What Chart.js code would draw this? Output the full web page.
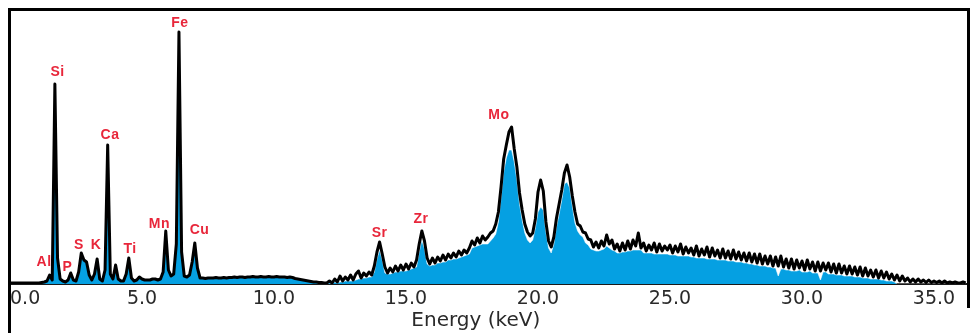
<!DOCTYPE html>
<html>
<head>
<meta charset="utf-8">
<script src="https://cdn.jsdelivr.net/npm/chart.js@4.4.1/dist/chart.umd.min.js"></script>
<style>
  html, body { margin: 0; padding: 0; background: #ffffff; }
  #wrap { width: 972px; height: 333px; position: relative; }
  canvas { display: block; }
</style>
</head>
<body>
<div id="wrap"><canvas id="c" width="972" height="333"></canvas></div>
<script>
// ---------------- DATA ----------------
const energyStepKeV = 0.1;            // channel width of the spectrum
const axisMaxKeV = 36.25;

// measured spectrum (black trace), one value per 0.1 keV channel, from 0.0 keV
const measured = [
  1,1,1,1,1,1,1,1,1,1,
  1,1,1.5,2,3,9,4,200,26,5,
  3,2,4,11,4,3,12,31,24,22,
  9,4,10,25,5,3,14,139,10,5,
  19,5,3,3,10,26,6,3,4,7,
  5,4,4,4,5,5,4,5,12,53,
  14,8,10,40,252,32,8,7,9,22,
  41,16,6,6,5.5,6,6,6,6.5,6,
  6,6.5,6,6.5,6.5,7,6.5,7,7,6.5,
  7,7,7.5,7,7,7.5,7,7,7.5,7,
  7,7.5,7,7,7,6.5,7,6.5,5.5,5,
  4.5,4,3.5,3,2.5,2,2,1.5,1.5,1,
  1,3,1,5,2,8,3,7,4,9,
  4,10,13,6,11,8,12,9,18,32,
  42,30,17,11,16,12,18,13,19,14,
  20,15,21,17,24,40,53,43,26,20,
  26,21,27,23,29,24,30,26,31,27,
  33,29,34,31,36,43,39,46,41,48,
  44,47,51,53,60,72,97,125,139,152,
  157,135,117,91,74,60,52,48,51,65,
  92,104,93,62,43,37,47,66,80,94,
  111,119,107,88,72,60,58,52,51,45,
  44,37,42,36,43,38,49,40,44,35,
  40,33,41,34,43,35,44,38,51,36,
  41,33,39,34,41,32,40,33,38,34,
  39,31,38,32,40,30,37,31,36,29,
  38,28,35,29,37,27,36,28,34,26,
  35,26,33,25,34,25,32,24,31,23,
  31,22,30,21,30,20,28,20,28,18,
  27,18,28,17,25,16,25,15,24,16,
  23,14,24,15,22,13,22,13,21,14,
  21,12,20,11,20,11,18,10,18,10,
  17,9,17,8,16,8,14,7,14,6,
  13,6,12,5,10,4,9,3,8,3,
  6,2,5,2,5,2,4,1.5,4,1.5,
  3,1.5,3,1,3,1,2,1,2,1,
  1,2,1
];

// blue filled spectrum above 12.1 keV (below that it coincides with the black trace)
const filledFrom121 = [
  1,0.5,2,1,2,2,3,3,3,
  3,4,5,5,6,6,7,7,12,25,
  34,24,11,10,10,11,12,12,13,13,
  13,14,15,16,17,32,44,35,20,18,
  19,19,21,21,22,22,24,24,25,25,
  26,27,28,29,30,36,37,38,39,40,
  40,40,43,46,50,62,86,112,126,134,
  134,122,104,80,64,51,44,41,44,56,
  72,77,74,52,36,31,40,57,70,84,
  100,102,96,78,61,53,49,47,41,39,
  35,34,33,33,34,35,38,36,34,33,
  31,31,32,32,33,33,34,34,34,34,
  31,31,31,31,30,30,30,30,30,30,
  29,29,29,28,28,28,28,28,27,27,
  26,26,26,26,25,25,25,25,24,24,
  24,24,23,23,23,22,22,22,21,21,
  20,20,19,19,18,18,18,17,17,16,
  16,8,15,15,14,14,13,13,13,14,
  12,12,12,13,11,11,11,4,12,12,
  10,10,10,9,9,9,8,8,8,8,
  7,7,7,6,6,6,5,5,5,5,
  4,4,3,3,3,2,0,0,0,0,
  0,0,0,0,0,0,0,0,0,0,
  0,0,0,0,0,0,0,0,0,0,
  0,0,0
];
const filled = measured.slice(0, 121).concat(filledFrom121);

// x axis ticks
const tickValues = [0, 5, 10, 15, 20, 25, 30, 35, axisMaxKeV];
const tickLabels = ['0.0', '5.0', '10.0', '15.0', '20.0', '25.0', '30.0', '35.0', ''];

// element annotations: name, energy (keV) and count level of the label
const elementNames  = ['Al', 'Si', 'P', 'S', 'K', 'Ca', 'Ti', 'Mn', 'Fe', 'Cu', 'Sr', 'Zr', 'Mo'];
const elementKeV    = [1.27, 1.78, 2.16, 2.59, 3.24, 3.77, 4.53, 5.64, 6.42, 7.16, 13.98, 15.55, 18.50];
const elementLevel  = [22, 212, 17, 38.5, 38.5, 149, 35, 60, 260.5, 54, 51, 65, 168.5];

// ---------------- CHART ----------------
const energyKeV = measured.map((_, i) => +(i * energyStepKeV).toFixed(2));
const toXY = arr => arr.map((y, i) => ({ x: energyKeV[i], y }));

const framePlugin = {
  id: 'frame',
  afterDraw(chart) {
    const { ctx, chartArea } = chart;
    ctx.save();
    ctx.fillStyle = '#000';
    const l = chartArea.left - 2, t = chartArea.top - 3, r = chartArea.right;
    ctx.fillRect(l, t, r + 3 - l, 3);              // top
    ctx.fillRect(l, t, 3, chart.height - t);        // left
    ctx.fillRect(r, t, 3, 308 - t);                 // right
    ctx.restore();
  }
};

const elementLabelPlugin = {
  id: 'elementLabels',
  afterDatasetsDraw(chart) {
    const { ctx } = chart;
    const xs = chart.scales.x, ys = chart.scales.y;
    ctx.save();
    ctx.font = 'bold 14px "Liberation Sans", Arial, sans-serif';
    try { ctx.letterSpacing = '0.5px'; } catch (e) {}
    ctx.fillStyle = '#e8263a';
    ctx.textAlign = 'center';
    ctx.textBaseline = 'middle';
    elementNames.forEach((n, i) => {
      ctx.fillText(n, xs.getPixelForValue(elementKeV[i]) + 0.5, ys.getPixelForValue(elementLevel[i]));
    });
    ctx.restore();
  }
};

new Chart(document.getElementById('c'), {
  type: 'line',
  data: {
    datasets: [
      {
        label: 'measured',
        data: toXY(measured),
        borderColor: '#000000',
        borderWidth: 3,
        borderJoinStyle: 'round',
        fill: false,
        pointRadius: 0,
        tension: 0,
        order: 0
      },
      {
        label: 'filled',
        data: toXY(filled),
        borderColor: 'rgba(255,255,255,0.55)',
        borderWidth: 1,
        backgroundColor: '#05a0e2',
        fill: 'origin',
        pointRadius: 0,
        tension: 0,
        order: 1
      }
    ]
  },
  options: {
    responsive: false,
    devicePixelRatio: 1,
    animation: false,
    layout: { padding: { left: 10, right: 5, top: 11, bottom: 0 } },
    plugins: { legend: { display: false }, tooltip: { enabled: false } },
    scales: {
      x: {
        type: 'linear',
        min: 0,
        max: axisMaxKeV,
        afterBuildTicks: s => { s.ticks = tickValues.map(v => ({ value: v })); },
        afterFit: s => { s.height = 49; },
        grid: { display: false, drawTicks: false },
        border: { display: true, color: '#1a1a1a', width: 2 },
        ticks: {
          autoSkip: false,
          maxRotation: 0,
          minRotation: 0,
          align: 'inner',
          padding: 4,
          color: '#2a2a2a',
          font: { family: '"DejaVu Sans", sans-serif', size: 19 },
          callback: (v, i) => tickLabels[i] ?? ''
        },
        title: {
          display: true,
          text: 'Energy (keV)\u00a0\u00a0\u00a0\u00a0',
          color: '#2a2a2a',
          font: { family: '"DejaVu Sans", sans-serif', size: 20 },
          padding: { top: 0, bottom: 0 }
        }
      },
      y: { display: false, min: 0, max: 273 }
    }
  },
  plugins: [framePlugin, elementLabelPlugin]
});
</script>
</body>
</html>
